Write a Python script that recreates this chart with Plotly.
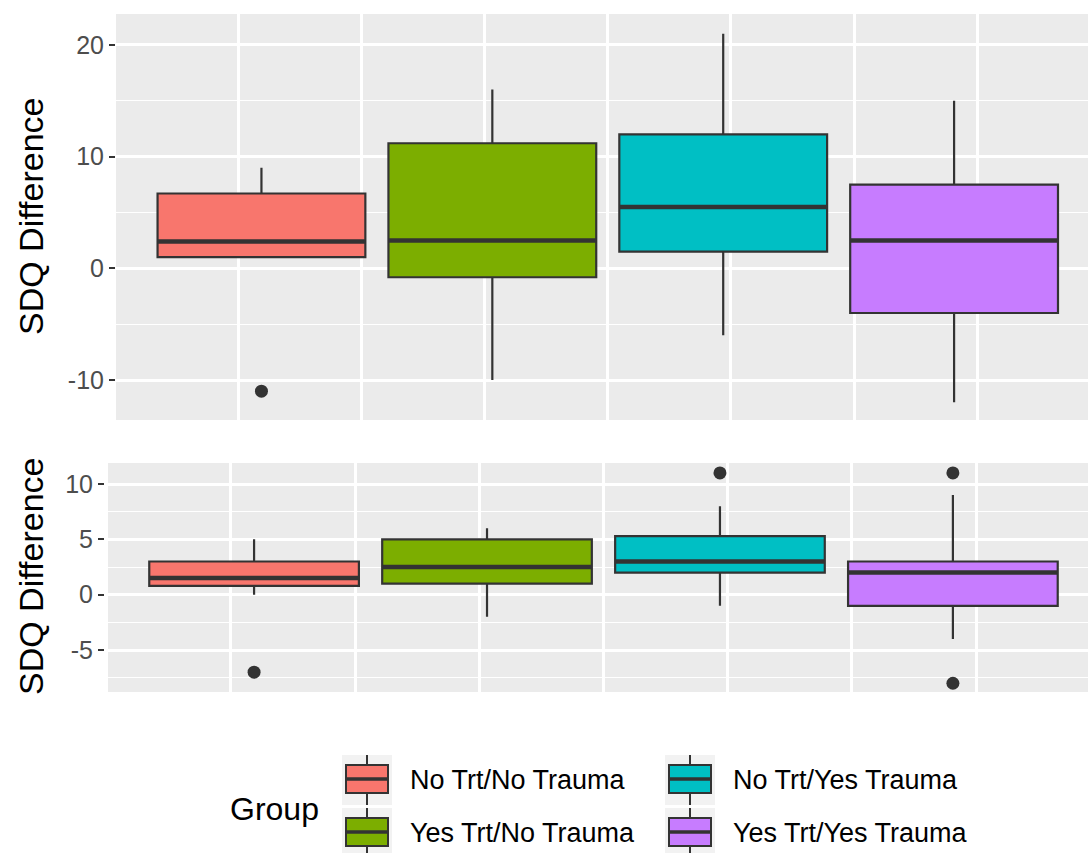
import plotly.graph_objects as go

W, H = 1088, 853

# ---- data -------------------------------------------------------------
groups = ["No Trt/No Trauma", "Yes Trt/No Trauma", "No Trt/Yes Trauma", "Yes Trt/Yes Trauma"]
colors = ["#F8766D", "#7CAE00", "#00BFC4", "#C77CFF"]
positions = [1, 2, 3, 4]

# upper panel summary statistics
top_q1 = [1.0, -0.8, 1.5, -4.0]
top_median = [2.4, 2.5, 5.5, 2.5]
top_q3 = [6.7, 11.2, 12.0, 7.5]
top_low = [1.0, -10.0, -6.0, -12.0]
top_high = [9.0, 16.0, 21.0, 15.0]
top_out_x = [1]
top_out_y = [-11.0]

# lower panel summary statistics
bot_q1 = [0.8, 1.0, 2.0, -1.0]
bot_median = [1.5, 2.5, 3.0, 2.0]
bot_q3 = [3.0, 5.0, 5.3, 3.0]
bot_low = [0.0, -2.0, -1.0, -4.0]
bot_high = [5.0, 6.0, 8.0, 9.0]
bot_out_x = [1, 3, 4, 4]
bot_out_y = [-7.0, 11.0, 11.0, -8.0]

top_ticks = [-10, 0, 10, 20]
top_labels = ["-10", "0", "10", "20"]
top_minor = [-5, 5, 15]
bot_ticks = [-5, 0, 5, 10]
bot_labels = ["-5", "0", "5", "10"]
bot_minor = [-7.5, -2.5, 2.5, 7.5]

# ---- style ------------------------------------------------------------
FONT = "Liberation Sans, Arial, sans-serif"
PANEL = "#EBEBEB"
DARK = "#333333"
BOX_W = 0.9
x_grid = [0.9 + 0.5333 * k for k in range(-1, 7)]


def px(x):
    return x / W


def py(y):
    return 1 - y / H


fig = go.Figure()


def add_panel(xa, ya, q1, med, q3, low, high, out_x, out_y):
    for i, name in enumerate(groups):
        fig.add_trace(go.Box(
            x=[positions[i]], q1=[q1[i]], median=[med[i]], q3=[q3[i]],
            lowerfence=[low[i]], upperfence=[high[i]],
            name=name, fillcolor=colors[i],
            line=dict(color=DARK, width=2.2), whiskerwidth=0, width=BOX_W,
            boxpoints=False, showlegend=False, hoverinfo="skip",
            xaxis=xa, yaxis=ya,
        ))
        # heavier median bar
        fig.add_trace(go.Scatter(
            x=[positions[i] - BOX_W / 2, positions[i] + BOX_W / 2],
            y=[med[i], med[i]], mode="lines",
            line=dict(color=DARK, width=4.5), showlegend=False, hoverinfo="skip",
            xaxis=xa, yaxis=ya,
        ))
    fig.add_trace(go.Scatter(
        x=out_x, y=out_y, mode="markers",
        marker=dict(color=DARK, size=13), showlegend=False, hoverinfo="skip",
        xaxis=xa, yaxis=ya,
    ))


add_panel("x", "y", top_q1, top_median, top_q3, top_low, top_high, top_out_x, top_out_y)
add_panel("x2", "y2", bot_q1, bot_median, bot_q3, bot_low, bot_high, bot_out_x, bot_out_y)

xcommon = dict(showticklabels=False, ticks="", tickvals=x_grid, showgrid=True,
               gridcolor="white", gridwidth=2.5, zeroline=False, showline=False)
ycommon = dict(showgrid=True, gridcolor="white", gridwidth=2.5, zeroline=False, showline=False,
               ticks="outside", ticklen=6, tickwidth=2, tickcolor=DARK,
               tickfont=dict(family=FONT, size=25, color="#4D4D4D"))

fig.update_layout(
    width=W, height=H,
    margin=dict(l=0, r=0, t=0, b=0),
    paper_bgcolor="white", plot_bgcolor=PANEL,
    boxmode="overlay",
    xaxis=dict(domain=[px(116), 1], range=[0.37, 4.58], anchor="y", **xcommon),
    yaxis=dict(domain=[py(420), py(14)], range=[-13.58, 22.77], anchor="x",
               tickvals=top_ticks, ticktext=top_labels,
               minor=dict(tickvals=top_minor, showgrid=True, gridcolor="white", gridwidth=1.2, ticks=""),
               **ycommon),
    xaxis2=dict(domain=[px(105), 1], range=[0.36, 4.58], anchor="y2", **xcommon),
    yaxis2=dict(domain=[py(692), py(463)], range=[-8.79, 11.9], anchor="x2",
                tickvals=bot_ticks, ticktext=bot_labels,
                minor=dict(tickvals=bot_minor, showgrid=True, gridcolor="white", gridwidth=1.2, ticks=""),
                **ycommon),
)

# axis titles
for yc in (217, 577):
    fig.add_annotation(x=px(31), y=py(yc), xref="paper", yref="paper", text="SDQ Difference",
                       textangle=-90, showarrow=False, xanchor="center", yanchor="middle",
                       font=dict(family=FONT, size=34, color="black"))

# ---- legend (ggplot-style key glyphs) --------------------------------
legend_order = [0, 2, 1, 3]
col_x = [342, 665]
row_y = [755, 808]
fig.add_annotation(x=px(228), y=py(809), xref="paper", yref="paper", text="Group",
                   showarrow=False, xanchor="left", yanchor="middle",
                   font=dict(family=FONT, size=32, color="black"))
for k, gi in enumerate(legend_order):
    cx0 = col_x[k % 2]
    cy0 = row_y[k // 2]
    mid = cx0 + 25
    fig.add_shape(type="rect", xref="paper", yref="paper",
                  x0=px(cx0), x1=px(cx0 + 50), y0=py(cy0), y1=py(cy0 + 50),
                  fillcolor="#F2F2F2", line=dict(width=0), layer="below")
    fig.add_shape(type="line", xref="paper", yref="paper",
                  x0=px(mid), x1=px(mid), y0=py(cy0), y1=py(cy0 + 50),
                  line=dict(color=DARK, width=2))
    fig.add_shape(type="rect", xref="paper", yref="paper",
                  x0=px(cx0 + 4), x1=px(cx0 + 46), y0=py(cy0 + 10), y1=py(cy0 + 38),
                  fillcolor=colors[gi], line=dict(color=DARK, width=2))
    fig.add_shape(type="line", xref="paper", yref="paper",
                  x0=px(cx0 + 4), x1=px(cx0 + 46), y0=py(cy0 + 24), y1=py(cy0 + 24),
                  line=dict(color=DARK, width=3.5))
    fig.add_annotation(x=px(cx0 + 66), y=py(cy0 + 25), xref="paper", yref="paper",
                       text=groups[gi], showarrow=False, xanchor="left", yanchor="middle",
                       font=dict(family=FONT, size=27, color="black"))

fig.write_html("out.html")
